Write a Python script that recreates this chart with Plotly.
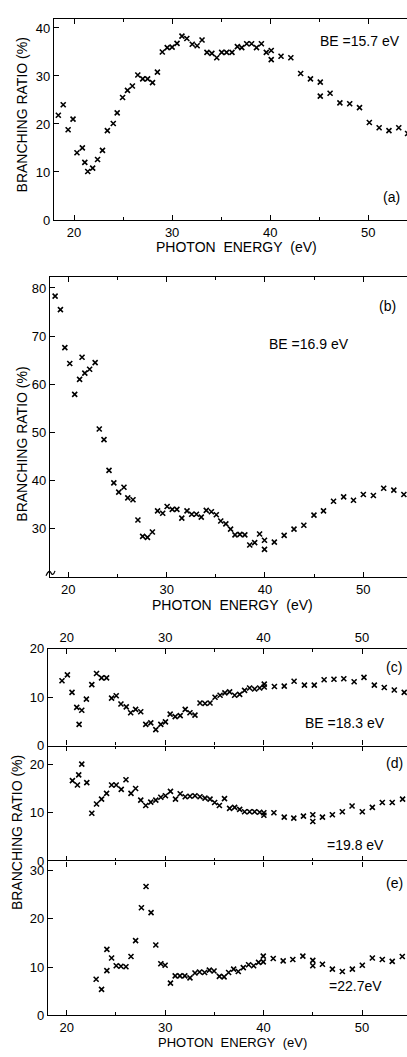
import plotly.graph_objects as go

W, H = 407, 1057

# ---------------- data ----------------
# (a) BE = 15.7 eV
a_x = [18.4, 18.9, 19.4, 19.9, 20.3, 20.85, 21.1, 21.4, 21.9, 22.4, 22.9, 23.4, 24.0, 24.4, 24.95,
       25.45, 25.95, 26.5, 27.0, 27.5, 28.0, 28.5, 29.0, 29.5, 30.0, 30.5, 31.0, 31.5, 32.05, 32.55,
       33.05, 33.55, 34.05, 34.55, 35.05, 35.55, 36.1, 36.65, 37.1, 37.6, 38.1, 38.6, 39.1, 39.6,
       40.1, 40.1, 41.1, 42.1, 43.1, 44.1, 45.1, 45.1, 46.1, 47.1, 48.1, 49.1, 50.1, 51.1, 52.1,
       53.1, 54.0]
a_y = [21.8, 24.0, 18.8, 21.0, 14.0, 15.0, 12.0, 10.1, 10.8, 12.6, 14.5, 18.6, 20.1, 22.3, 25.5,
       27.0, 27.9, 30.2, 29.4, 29.4, 28.6, 30.8, 35.0, 35.9, 36.0, 36.8, 38.3, 37.8, 36.6, 36.3,
       37.5, 34.9, 34.7, 33.8, 34.9, 34.9, 34.9, 36.1, 35.9, 36.7, 36.7, 35.9, 36.7, 34.9,
       35.3, 33.4, 34.1, 33.8, 30.5, 29.4, 28.7, 25.8, 26.4, 24.4, 24.2, 23.4, 20.3, 19.2, 18.6,
       19.2, 18.0]

# (b) BE = 16.9 eV
b_x = [18.66, 19.2, 19.65, 20.15, 20.65, 21.15, 21.4, 21.68, 22.17, 22.73, 23.15, 23.63, 24.14,
       24.63, 25.13, 25.66, 26.05, 26.58, 27.08, 27.56, 28.05, 28.55, 29.08, 29.6, 30.05, 30.57,
       31.04, 31.54, 32.07, 32.55, 33.03, 33.52, 34.03, 34.55, 35.05, 35.5, 36.02, 36.5, 36.95,
       37.45, 37.95, 38.45, 38.95, 39.45, 39.95, 39.95, 40.95, 41.95, 42.95, 43.95, 44.98, 45.95,
       46.97, 48.0, 49.0, 50.0, 51.02, 52.07, 53.1, 54.12]
b_y = [78.3, 75.5, 67.6, 64.3, 57.9, 61.0, 65.6, 62.3, 63.1, 64.5, 50.7, 48.5, 42.1, 39.5, 37.6,
       38.6, 36.4, 36.0, 31.8, 28.4, 28.2, 29.3, 33.7, 33.2, 34.6, 34.0, 34.0, 32.2, 33.7, 33.0,
       33.0, 32.4, 33.8, 33.5, 32.9, 31.6, 31.0, 29.9, 28.7, 28.8, 28.7, 26.6, 27.1, 28.9, 27.6,
       25.7, 27.2, 28.6, 29.9, 30.7, 32.8, 33.7, 35.7, 36.6, 35.9, 37.1, 36.9, 38.4, 38.0, 37.1]

# (c) BE = 18.3 eV
c_x = [19.52, 20.07, 20.54, 21.02, 21.53, 21.26, 22.0, 22.55, 23.03, 23.54, 24.05, 24.56, 25.03,
       25.51, 26.05, 26.5, 27.0, 27.52, 28.03, 28.54, 29.05, 29.56, 30.03, 30.51, 31.02, 31.53,
       32.04, 32.52, 33.03, 33.54, 34.05, 34.56, 35.07, 35.58, 36.07, 36.55, 37.06, 37.57, 38.07,
       38.58, 39.09, 39.6, 40.07, 40.07, 41.1, 42.1, 43.1, 44.15, 45.15, 46.15, 47.15, 48.15, 49.2,
       50.2, 51.25, 52.26, 53.28, 54.29]
c_y = [13.4, 14.6, 11.0, 7.9, 7.3, 4.4, 9.6, 12.6, 14.9, 14.0, 14.0, 9.8, 10.3, 8.6, 8.0, 6.8,
       7.5, 7.0, 4.4, 4.7, 3.3, 4.4, 4.9, 6.5, 6.0, 6.2, 7.5, 6.8, 6.3, 8.8, 8.7, 8.8, 10.0, 10.4,
       10.9, 11.1, 10.4, 10.6, 11.4, 11.9, 11.7, 11.9, 12.7, 12.1, 12.2, 12.3, 13.3, 12.5, 12.5,
       13.6, 13.7, 13.8, 13.2, 14.1, 12.5, 12.0, 11.5, 11.0]

# (d) BE = 19.8 eV
d_x = [20.58, 21.09, 21.22, 21.53, 22.04, 22.55, 23.03, 23.54, 24.05, 24.56, 25.03, 25.54, 26.02,
       26.53, 27.0, 27.52, 28.03, 28.54, 29.05, 29.56, 30.03, 30.54, 31.05, 31.53, 32.04, 32.52,
       33.03, 33.54, 34.05, 34.56, 35.03, 35.51, 36.03, 36.55, 37.06, 37.57, 38.07, 38.58, 39.09,
       39.6, 40.03, 40.03, 41.05, 42.1, 43.07, 44.05, 45.0, 45.0, 45.98, 46.99, 48.0, 48.99, 50.03,
       51.05, 52.06, 53.07, 54.12]
d_y = [16.6, 15.7, 17.8, 20.0, 16.2, 9.9, 11.8, 12.8, 14.0, 15.7, 15.7, 14.8, 16.8, 14.0, 15.0,
       12.6, 11.5, 12.2, 12.6, 13.2, 13.5, 14.4, 12.8, 13.9, 13.3, 13.4, 13.5, 13.3, 13.0, 12.8,
       12.1, 11.5, 12.9, 10.9, 11.1, 10.7, 10.2, 10.2, 10.2, 10.1, 10.0, 9.5, 10.0, 9.1, 8.9, 9.3,
       9.6, 8.2, 9.1, 9.6, 10.2, 11.4, 10.2, 11.1, 12.1, 12.1, 12.8]

# (e) BE = 22.7 eV
e_x = [22.99, 23.54, 24.08, 24.08, 24.56, 25.03, 25.51, 26.02, 26.53, 27.0, 27.59, 28.06, 28.57,
       29.05, 29.56, 30.0, 30.54, 31.02, 31.5, 32.0, 32.52, 33.03, 33.5, 34.01, 34.49, 34.97,
       35.51, 35.99, 36.45, 36.96, 37.43, 37.94, 38.48, 38.99, 39.49, 39.97, 39.97, 40.98, 41.99,
       42.97, 43.99, 45.0, 45.0, 45.98, 46.99, 48.0, 49.02, 50.03, 51.05, 52.06, 53.07, 54.09]
e_y = [7.5, 5.4, 13.7, 9.3, 11.9, 10.3, 10.2, 10.1, 12.2, 15.5, 22.3, 26.7, 21.3, 14.6, 10.7,
       10.4, 6.7, 8.2, 8.2, 8.2, 7.8, 8.8, 9.0, 8.9, 9.4, 9.2, 8.1, 8.0, 8.9, 9.6, 9.1, 9.9, 10.5,
       10.3, 11.0, 11.1, 12.3, 11.8, 11.3, 11.6, 12.3, 11.4, 10.3, 10.6, 9.6, 9.1, 9.6, 10.4, 11.9,
       11.6, 11.2, 12.2]

panel_labels = ["(a)", "(b)", "(c)", "(d)", "(e)"]
be_labels = ["BE =15.7 eV", "BE =16.9 eV", "BE =18.3 eV", "=19.8 eV", "=22.7eV"]
y_title = "BRANCHING RATIO (%)"
x_title = "PHOTON\u00a0\u00a0ENERGY\u00a0\u00a0(eV)"

# ---------------- layout helpers ----------------
FONT = "Liberation Sans"
def px(x):
    return x / W
def py(y):
    return 1 - y / H

fig = go.Figure()

panels = [
    dict(x=a_x, y=a_y, xr=[17.96, 53.94], yr=[0, 41.9], xd=(54, 407), yd=(216, 12),
         yt=[0, 10, 20, 30, 40]),
    dict(x=b_x, y=b_y, xr=[18.14, 54.44], yr=[20, 82.25], xd=(50, 407), yd=(578, 274),
         yt=[30, 40, 50, 60, 70, 80]),
    dict(x=c_x, y=c_y, xr=[18.1, 54.57], yr=[0, 20], xd=(48, 407), yd=(749.3, 651),
         yt=[0, 10, 20]),
    dict(x=d_x, y=d_y, xr=[18.1, 54.57], yr=[0, 23.8], xd=(48, 407), yd=(866.7, 749.3),
         yt=[0, 10, 20]),
    dict(x=e_x, y=e_y, xr=[18.1, 54.57], yr=[0, 31.9], xd=(48, 407), yd=(1023, 866.7),
         yt=[0, 10, 20, 30]),
]

MAJ, MIN = 5, 3
def minor():
    return dict(dtick=5, tick0=0, ticks="inside", ticklen=MIN, tickwidth=1.2,
                tickcolor="black", showgrid=False)

layout = {}
for i, p in enumerate(panels):
    n = "" if i == 0 else str(i + 1)
    fig.add_trace(go.Scatter(
        x=p["x"], y=p["y"], mode="markers", xaxis="x" + n, yaxis="y" + n,
        marker=dict(symbol="x-thin", size=5, line=dict(width=1.6, color="black"), color="black"),
        showlegend=False, hoverinfo="skip"))
    xa = dict(domain=[px(p["xd"][0]), px(p["xd"][1])], range=p["xr"], anchor="y" + n,
              showline=True, linecolor="black", linewidth=1.4, mirror="ticks",
              ticks="inside", ticklen=MAJ, tickwidth=1.3, tickcolor="black",
              tick0=0, dtick=10, showgrid=False, zeroline=False, minor=minor(),
              tickfont=dict(family=FONT, size=13, color="black"))
    if i in (0, 1):
        xa["side"] = "bottom"
    elif i == 2:
        xa["side"] = "top"          # labels on top, mirrored line + up-ticks at c/d boundary
    elif i == 3:
        xa["side"] = "top"          # down-ticks only (line drawn by panel c)
        xa["showline"] = False
        xa["mirror"] = False
        xa["showticklabels"] = False
    else:
        xa["side"] = "bottom"       # bottom axis + mirrored line/down-ticks at d/e boundary
    ya = dict(domain=[py(p["yd"][0]), py(p["yd"][1])], range=p["yr"], anchor="x" + n,
              showline=True, linecolor="black", linewidth=1.4, mirror=False,
              ticks="inside", ticklen=5, tickwidth=1.3, tickcolor="black",
              tickvals=p["yt"], showgrid=False, zeroline=False,
              tickfont=dict(family=FONT, size=13, color="black"))
    layout["xaxis" + n] = xa
    layout["yaxis" + n] = ya

# extra overlay axis: up-ticks at the bottom of panel (d)
fig.add_trace(go.Scatter(x=[], y=[], xaxis="x6", yaxis="y4", mode="markers",
                         showlegend=False, hoverinfo="skip"))
layout["xaxis6"] = dict(overlaying="x4", anchor="y4", side="bottom", range=panels[3]["xr"],
                        showline=False, ticks="inside", ticklen=MAJ, tickwidth=1.3,
                        tickcolor="black", tick0=0, dtick=10, showgrid=False, zeroline=False,
                        showticklabels=False, minor=minor())

annotations = []
def ann(text, x, y, size=14, angle=0, xanchor="center"):
    annotations.append(dict(text=text, x=px(x), y=py(y), xref="paper", yref="paper",
                            showarrow=False, textangle=angle, xanchor=xanchor, yanchor="middle",
                            font=dict(family=FONT, size=size, color="black")))

# axis titles
ann(y_title, 22, 110, angle=-90)
ann(x_title, 236, 243)
ann(y_title, 22, 444, angle=-90)
ann(x_title, 232, 607)
ann(y_title, 17, 838, angle=-90)
ann(x_title, 232, 1050.5, size=13)

# panel labels
ann(panel_labels[0], 391, 193)
ann(panel_labels[1], 387, 303)
ann(panel_labels[2], 394, 670)
ann(panel_labels[3], 394, 767)
ann(panel_labels[4], 394, 889)

# BE labels
ann(be_labels[0], 318, 34, size=14, xanchor="left")
ann(be_labels[1], 267, 342, size=14, xanchor="left")
ann(be_labels[2], 303, 726, size=14, xanchor="left")
ann(be_labels[3], 325, 850, size=14, xanchor="left")
ann(be_labels[4], 327, 993, size=14, xanchor="left")

# axis break mark on panel (b)
shapes = [dict(type="path", xref="paper", yref="paper",
               path=f"M {px(46)},{py(577)} Q {px(49)},{py(570)} {px(51)},{py(574)} "
                    f"Q {px(53)},{py(578)} {px(55)},{py(572)}",
               line=dict(color="black", width=1.2))]

fig.update_layout(
    width=W, height=H, margin=dict(l=0, r=0, t=0, b=0),
    paper_bgcolor="white", plot_bgcolor="white",
    annotations=annotations, shapes=shapes, showlegend=False,
    **layout)

fig.write_html("out.html")
